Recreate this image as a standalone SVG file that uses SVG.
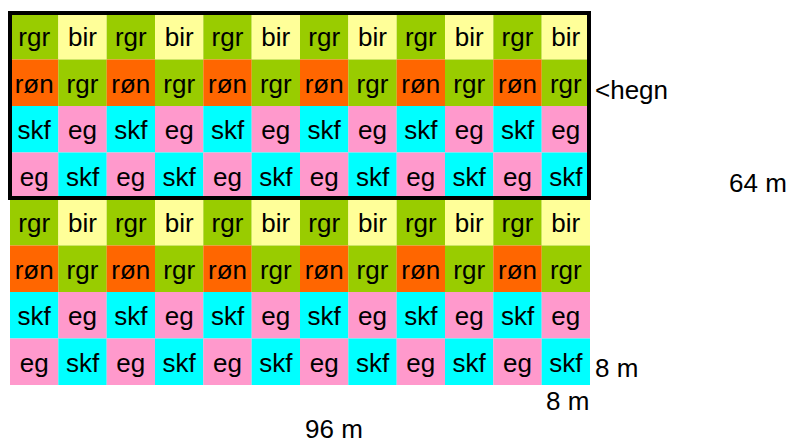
<svg xmlns="http://www.w3.org/2000/svg" width="790" height="443" viewBox="0 0 790 443">
<style>
text{font-family:"Liberation Sans",Arial,sans-serif;font-size:26px;fill:#000}
.c text{text-anchor:middle}
.g{fill:#99cc00}.y{fill:#ffff99}.o{fill:#ff6600}.s{fill:#00ffff}.p{fill:#ff99cc}
</style>
<rect width="790" height="443" fill="#fff"/>
<g class="c">
<g id="r1"><rect class="g" x="10" y="13" width="48.4" height="46.5"/><text x="34.2" y="46">rgr</text><rect class="y" x="58.33" y="13" width="48.4" height="46.5"/><text x="82.5" y="46">bir</text><rect class="g" x="106.67" y="13" width="48.4" height="46.5"/><text x="130.8" y="46">rgr</text><rect class="y" x="155" y="13" width="48.4" height="46.5"/><text x="179.2" y="46">bir</text><rect class="g" x="203.33" y="13" width="48.4" height="46.5"/><text x="227.5" y="46">rgr</text><rect class="y" x="251.67" y="13" width="48.4" height="46.5"/><text x="275.8" y="46">bir</text><rect class="g" x="300" y="13" width="48.4" height="46.5"/><text x="324.2" y="46">rgr</text><rect class="y" x="348.33" y="13" width="48.4" height="46.5"/><text x="372.5" y="46">bir</text><rect class="g" x="396.67" y="13" width="48.4" height="46.5"/><text x="420.8" y="46">rgr</text><rect class="y" x="445" y="13" width="48.4" height="46.5"/><text x="469.2" y="46">bir</text><rect class="g" x="493.33" y="13" width="48.4" height="46.5"/><text x="517.5" y="46">rgr</text><rect class="y" x="541.67" y="13" width="48.33" height="46.5"/><text x="565.8" y="46">bir</text></g>
<g id="r2"><rect class="o" x="10" y="59.5" width="48.4" height="46.5"/><text x="34.2" y="92.5">røn</text><rect class="g" x="58.33" y="59.5" width="48.4" height="46.5"/><text x="82.5" y="92.5">rgr</text><rect class="o" x="106.67" y="59.5" width="48.4" height="46.5"/><text x="130.8" y="92.5">røn</text><rect class="g" x="155" y="59.5" width="48.4" height="46.5"/><text x="179.2" y="92.5">rgr</text><rect class="o" x="203.33" y="59.5" width="48.4" height="46.5"/><text x="227.5" y="92.5">røn</text><rect class="g" x="251.67" y="59.5" width="48.4" height="46.5"/><text x="275.8" y="92.5">rgr</text><rect class="o" x="300" y="59.5" width="48.4" height="46.5"/><text x="324.2" y="92.5">røn</text><rect class="g" x="348.33" y="59.5" width="48.4" height="46.5"/><text x="372.5" y="92.5">rgr</text><rect class="o" x="396.67" y="59.5" width="48.4" height="46.5"/><text x="420.8" y="92.5">røn</text><rect class="g" x="445" y="59.5" width="48.4" height="46.5"/><text x="469.2" y="92.5">rgr</text><rect class="o" x="493.33" y="59.5" width="48.4" height="46.5"/><text x="517.5" y="92.5">røn</text><rect class="g" x="541.67" y="59.5" width="48.33" height="46.5"/><text x="565.8" y="92.5">rgr</text></g>
<g id="r3"><rect class="s" x="10" y="106" width="48.4" height="46.5"/><text x="34.2" y="139">skf</text><rect class="p" x="58.33" y="106" width="48.4" height="46.5"/><text x="82.5" y="139">eg</text><rect class="s" x="106.67" y="106" width="48.4" height="46.5"/><text x="130.8" y="139">skf</text><rect class="p" x="155" y="106" width="48.4" height="46.5"/><text x="179.2" y="139">eg</text><rect class="s" x="203.33" y="106" width="48.4" height="46.5"/><text x="227.5" y="139">skf</text><rect class="p" x="251.67" y="106" width="48.4" height="46.5"/><text x="275.8" y="139">eg</text><rect class="s" x="300" y="106" width="48.4" height="46.5"/><text x="324.2" y="139">skf</text><rect class="p" x="348.33" y="106" width="48.4" height="46.5"/><text x="372.5" y="139">eg</text><rect class="s" x="396.67" y="106" width="48.4" height="46.5"/><text x="420.8" y="139">skf</text><rect class="p" x="445" y="106" width="48.4" height="46.5"/><text x="469.2" y="139">eg</text><rect class="s" x="493.33" y="106" width="48.4" height="46.5"/><text x="517.5" y="139">skf</text><rect class="p" x="541.67" y="106" width="48.33" height="46.5"/><text x="565.8" y="139">eg</text></g>
<g id="r4"><rect class="p" x="10" y="152.5" width="48.4" height="46.5"/><text x="34.2" y="185.5">eg</text><rect class="s" x="58.33" y="152.5" width="48.4" height="46.5"/><text x="82.5" y="185.5">skf</text><rect class="p" x="106.67" y="152.5" width="48.4" height="46.5"/><text x="130.8" y="185.5">eg</text><rect class="s" x="155" y="152.5" width="48.4" height="46.5"/><text x="179.2" y="185.5">skf</text><rect class="p" x="203.33" y="152.5" width="48.4" height="46.5"/><text x="227.5" y="185.5">eg</text><rect class="s" x="251.67" y="152.5" width="48.4" height="46.5"/><text x="275.8" y="185.5">skf</text><rect class="p" x="300" y="152.5" width="48.4" height="46.5"/><text x="324.2" y="185.5">eg</text><rect class="s" x="348.33" y="152.5" width="48.4" height="46.5"/><text x="372.5" y="185.5">skf</text><rect class="p" x="396.67" y="152.5" width="48.4" height="46.5"/><text x="420.8" y="185.5">eg</text><rect class="s" x="445" y="152.5" width="48.4" height="46.5"/><text x="469.2" y="185.5">skf</text><rect class="p" x="493.33" y="152.5" width="48.4" height="46.5"/><text x="517.5" y="185.5">eg</text><rect class="s" x="541.67" y="152.5" width="48.33" height="46.5"/><text x="565.8" y="185.5">skf</text></g>
<g id="r5"><rect class="g" x="10" y="199" width="48.4" height="46.5"/><text x="34.2" y="232">rgr</text><rect class="y" x="58.33" y="199" width="48.4" height="46.5"/><text x="82.5" y="232">bir</text><rect class="g" x="106.67" y="199" width="48.4" height="46.5"/><text x="130.8" y="232">rgr</text><rect class="y" x="155" y="199" width="48.4" height="46.5"/><text x="179.2" y="232">bir</text><rect class="g" x="203.33" y="199" width="48.4" height="46.5"/><text x="227.5" y="232">rgr</text><rect class="y" x="251.67" y="199" width="48.4" height="46.5"/><text x="275.8" y="232">bir</text><rect class="g" x="300" y="199" width="48.4" height="46.5"/><text x="324.2" y="232">rgr</text><rect class="y" x="348.33" y="199" width="48.4" height="46.5"/><text x="372.5" y="232">bir</text><rect class="g" x="396.67" y="199" width="48.4" height="46.5"/><text x="420.8" y="232">rgr</text><rect class="y" x="445" y="199" width="48.4" height="46.5"/><text x="469.2" y="232">bir</text><rect class="g" x="493.33" y="199" width="48.4" height="46.5"/><text x="517.5" y="232">rgr</text><rect class="y" x="541.67" y="199" width="48.33" height="46.5"/><text x="565.8" y="232">bir</text></g>
<g id="r6"><rect class="o" x="10" y="245.5" width="48.4" height="46.5"/><text x="34.2" y="278.5">røn</text><rect class="g" x="58.33" y="245.5" width="48.4" height="46.5"/><text x="82.5" y="278.5">rgr</text><rect class="o" x="106.67" y="245.5" width="48.4" height="46.5"/><text x="130.8" y="278.5">røn</text><rect class="g" x="155" y="245.5" width="48.4" height="46.5"/><text x="179.2" y="278.5">rgr</text><rect class="o" x="203.33" y="245.5" width="48.4" height="46.5"/><text x="227.5" y="278.5">røn</text><rect class="g" x="251.67" y="245.5" width="48.4" height="46.5"/><text x="275.8" y="278.5">rgr</text><rect class="o" x="300" y="245.5" width="48.4" height="46.5"/><text x="324.2" y="278.5">røn</text><rect class="g" x="348.33" y="245.5" width="48.4" height="46.5"/><text x="372.5" y="278.5">rgr</text><rect class="o" x="396.67" y="245.5" width="48.4" height="46.5"/><text x="420.8" y="278.5">røn</text><rect class="g" x="445" y="245.5" width="48.4" height="46.5"/><text x="469.2" y="278.5">rgr</text><rect class="o" x="493.33" y="245.5" width="48.4" height="46.5"/><text x="517.5" y="278.5">røn</text><rect class="g" x="541.67" y="245.5" width="48.33" height="46.5"/><text x="565.8" y="278.5">rgr</text></g>
<g id="r7"><rect class="s" x="10" y="292" width="48.4" height="46.5"/><text x="34.2" y="325">skf</text><rect class="p" x="58.33" y="292" width="48.4" height="46.5"/><text x="82.5" y="325">eg</text><rect class="s" x="106.67" y="292" width="48.4" height="46.5"/><text x="130.8" y="325">skf</text><rect class="p" x="155" y="292" width="48.4" height="46.5"/><text x="179.2" y="325">eg</text><rect class="s" x="203.33" y="292" width="48.4" height="46.5"/><text x="227.5" y="325">skf</text><rect class="p" x="251.67" y="292" width="48.4" height="46.5"/><text x="275.8" y="325">eg</text><rect class="s" x="300" y="292" width="48.4" height="46.5"/><text x="324.2" y="325">skf</text><rect class="p" x="348.33" y="292" width="48.4" height="46.5"/><text x="372.5" y="325">eg</text><rect class="s" x="396.67" y="292" width="48.4" height="46.5"/><text x="420.8" y="325">skf</text><rect class="p" x="445" y="292" width="48.4" height="46.5"/><text x="469.2" y="325">eg</text><rect class="s" x="493.33" y="292" width="48.4" height="46.5"/><text x="517.5" y="325">skf</text><rect class="p" x="541.67" y="292" width="48.33" height="46.5"/><text x="565.8" y="325">eg</text></g>
<g id="r8"><rect class="p" x="10" y="338.5" width="48.4" height="46.5"/><text x="34.2" y="371.5">eg</text><rect class="s" x="58.33" y="338.5" width="48.4" height="46.5"/><text x="82.5" y="371.5">skf</text><rect class="p" x="106.67" y="338.5" width="48.4" height="46.5"/><text x="130.8" y="371.5">eg</text><rect class="s" x="155" y="338.5" width="48.4" height="46.5"/><text x="179.2" y="371.5">skf</text><rect class="p" x="203.33" y="338.5" width="48.4" height="46.5"/><text x="227.5" y="371.5">eg</text><rect class="s" x="251.67" y="338.5" width="48.4" height="46.5"/><text x="275.8" y="371.5">skf</text><rect class="p" x="300" y="338.5" width="48.4" height="46.5"/><text x="324.2" y="371.5">eg</text><rect class="s" x="348.33" y="338.5" width="48.4" height="46.5"/><text x="372.5" y="371.5">skf</text><rect class="p" x="396.67" y="338.5" width="48.4" height="46.5"/><text x="420.8" y="371.5">eg</text><rect class="s" x="445" y="338.5" width="48.4" height="46.5"/><text x="469.2" y="371.5">skf</text><rect class="p" x="493.33" y="338.5" width="48.4" height="46.5"/><text x="517.5" y="371.5">eg</text><rect class="s" x="541.67" y="338.5" width="48.33" height="46.5"/><text x="565.8" y="371.5">skf</text></g>
</g>
<g id="hegn"><rect x="10" y="13" width="579" height="185" fill="none" stroke="#000" stroke-width="4"/></g>
<g id="labels">
<text x="595" y="99">&lt;hegn</text>
<text x="729" y="191.5">64 m</text>
<text x="305" y="437.5">96 m</text>
<text x="595" y="377">8 m</text>
<text x="546" y="410">8 m</text>
</g>
</svg>
